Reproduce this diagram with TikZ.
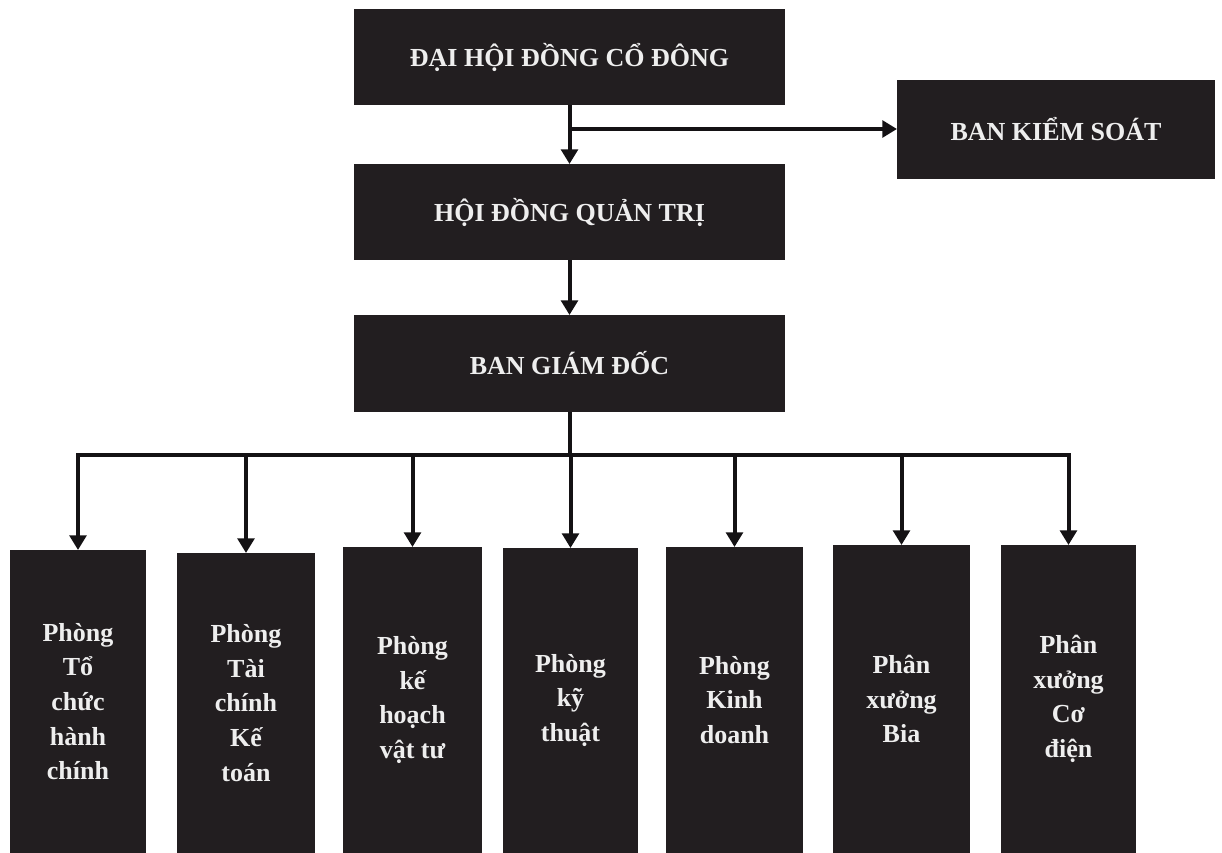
\documentclass[tikz,border=0pt]{standalone}
\usepackage{fontspec}
\setmainfont{Liberation Serif}
\usetikzlibrary{arrows.meta}
\definecolor{boxc}{RGB}{34,30,32}
\definecolor{txtc}{RGB}{238,238,238}
\definecolor{linec}{RGB}{20,18,20}
\tikzset{
  orgbox/.style={fill=boxc, draw=none, text=txtc, align=center, inner sep=0pt, outer sep=0pt,
    font=\bfseries\fontsize{19.5}{26}\selectfont},
  wide/.style={orgbox, minimum width=323.25pt, minimum height=72pt},
  arr/.style={draw=linec, line width=3pt, -{Triangle[width=12.5pt,length=11pt]}},
  lin/.style={draw=linec, line width=3pt}
}
\begin{document}
\begin{tikzpicture}[x=0.75pt,y=-0.75pt]
\useasboundingbox (0,0) rectangle (1222,853);
\node[wide] (dh) at (569.5,57) {ĐẠI HỘI ĐỒNG CỔ ĐÔNG};
\node[wide] (hd) at (569.5,212) {HỘI ĐỒNG QUẢN TRỊ};
\node[wide, minimum height=72.75pt] (bgd) at (569.5,363.5) {BAN GIÁM ĐỐC};
\node[orgbox, minimum width=238.5pt, minimum height=74.25pt] (bks) at (1056,129) {BAN KIỂM SOÁT};

\node[orgbox, minimum width=102pt, minimum height=227.25pt] (b1) at (78,701.5) {Phòng\\Tổ\\chức\\hành\\chính};
\node[orgbox, minimum width=103.5pt, minimum height=225pt] (b2) at (246,703) {Phòng\\Tài\\chính\\Kế\\toán};
\node[orgbox, minimum width=104.25pt, minimum height=229.5pt] (b3) at (412.5,700) {Phòng\\kế\\hoạch\\vật tư};
\node[orgbox, minimum width=101.25pt, minimum height=228.75pt] (b4) at (570.5,700.5) {Phòng\\kỹ\\thuật};
\node[orgbox, minimum width=102.75pt, minimum height=229.5pt] (b5) at (734.5,700) {Phòng\\Kinh\\doanh};
\node[orgbox, minimum width=102.75pt, minimum height=231pt] (b6) at (901.5,699) {Phân\\xưởng\\Bia};
\node[orgbox, minimum width=101.25pt, minimum height=231pt] (b7) at (1068.5,699) {Phân\\xưởng\\Cơ\\điện};

\coordinate (bus) at (569.5,455);

\draw[arr] (dh.south) -- (hd.north);
\draw[arr] (dh.south |- bks.west) -- (bks.west);
\draw[arr] (hd.south) -- (bgd.north);
\draw[lin] (bgd.south) -- (bus);
\draw[lin, line cap=rect] (b1.north |- bus) -- (b7.north |- bus);
\foreach \b in {b1,b2,b3,b4,b5,b6,b7}{
  \draw[arr] (\b.north |- bus) -- (\b.north);
}
\end{tikzpicture}
\end{document}
